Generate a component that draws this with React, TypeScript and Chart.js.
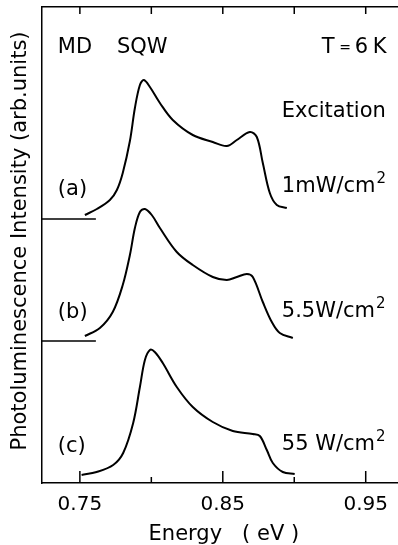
import React, { useEffect, useRef } from "react";
import { Chart, registerables } from "chart.js";

Chart.register(...registerables);

// ---- data (energy in eV, intensity in arb. units above each trace's baseline) ----
const energyA = [0.7535, 0.7619, 0.771, 0.7759, 0.78, 0.785, 0.7885, 0.792, 0.7948, 0.799, 0.806, 0.815, 0.829, 0.843, 0.8528, 0.8598, 0.8689, 0.8738, 0.878, 0.8829, 0.8878, 0.8948];
const intensityA = [4, 10, 19, 29, 46, 78, 111, 134, 139, 132, 116, 99, 84, 77, 73, 79, 87, 82, 56, 26, 14, 11];

const energyB = [0.7535, 0.764, 0.773, 0.78, 0.785, 0.7885, 0.792, 0.7955, 0.8003, 0.806, 0.8178, 0.829, 0.843, 0.8528, 0.8598, 0.8668, 0.871, 0.878, 0.8843, 0.8899, 0.899];
const intensityB = [5, 13, 29, 56, 86, 113, 129, 132, 126, 113, 89, 76, 64, 61, 64, 67, 64, 39, 19, 8, 3];

const energyC = [0.7512, 0.7617, 0.7733, 0.7803, 0.7873, 0.792, 0.7955, 0.799, 0.8024, 0.808, 0.8178, 0.829, 0.843, 0.857, 0.871, 0.8759, 0.8808, 0.885, 0.892, 0.9003];
const intensityC = [8, 11, 18, 30, 60, 96, 123, 133, 131, 120, 96, 76, 61, 52, 49, 47, 33, 20, 11, 9];

// vertical offsets of the stacked traces
const offsets = [264, 142, 0];
const traceLabels = ["(a)", "(b)", "(c)"];
const excitationLabels = ["1mW/cm", "5.5W/cm", "55 W/cm"];

// baseline marker segments for (a) and (b)
const baselineEnergies = [0.7235, 0.7612];

// axis
const xMin = 0.7235;
const xMax = 0.9724;
const yMin = 0;
const yMax = 476;
const tickValues = [0.75, 0.8, 0.85, 0.9, 0.95];
const labeledTicks = [0.75, 0.85, 0.95];

const FONT = "'DejaVu Sans', sans-serif";

function pts(xs: number[], ys: number[], off: number) {
  return xs.map((x, i) => ({ x, y: ys[i] + off }));
}

const decorPlugin = {
  id: "decor",
  afterDraw(chart: any) {
    const ctx: CanvasRenderingContext2D = chart.ctx;
    const area = chart.chartArea;
    const xs = chart.scales.x;
    const ys = chart.scales.y;
    ctx.save();
    // texts
    ctx.fillStyle = "#000";
    ctx.textBaseline = "middle";
    ctx.textAlign = "left";
    ctx.font = `21px ${FONT}`;
    const at = (e: number, val: number) => [xs.getPixelForValue(e), ys.getPixelForValue(val)];
    let p = at(0.7346, 435);
    ctx.fillText("MD", p[0], p[1]);
    p = at(0.7759, 435);
    ctx.fillText("SQW", p[0], p[1]);
    p = at(0.9192, 435);
    ctx.fillText("T", p[0], p[1]);
    p = at(0.9315, 435);
    ctx.font = `14px ${FONT}`;
    ctx.fillText("=", p[0], p[1]);
    ctx.font = `21px ${FONT}`;
    p = at(0.9423, 435);
    ctx.fillText("6", p[0], p[1]);
    p = at(0.9549, 435);
    ctx.fillText("K", p[0], p[1]);
    p = at(0.8913, 371);
    ctx.fillText("Excitation", p[0], p[1]);
    const excY = [296, 171, 38];
    excitationLabels.forEach((t, i) => {
      const q = at(0.8913, excY[i]);
      ctx.font = `21px ${FONT}`;
      ctx.fillText(t, q[0], q[1]);
      const w = ctx.measureText(t).width;
      ctx.font = `15px ${FONT}`;
      ctx.fillText("2", q[0] + w + 1, q[1] - 8);
    });
    ctx.font = `21px ${FONT}`;
    const labY = [293, 170, 36];
    traceLabels.forEach((t, i) => {
      const q = at(0.7346, labY[i]);
      ctx.fillText(t, q[0], q[1]);
    });
    // inward ticks
    tickValues.forEach((v) => {
      const px = xs.getPixelForValue(v);
      const major = labeledTicks.some((l) => Math.abs(l - v) < 1e-6);
      const len = major ? 12 : 6;
      ctx.fillRect(px - 0.75, area.bottom - len, 1.5, len);
      ctx.fillRect(px - 0.75, area.top, 1.5, 7);
    });
    // axis titles
    ctx.textAlign = "center";
    ctx.textBaseline = "alphabetic";
    ctx.fillText("Energy   ( eV )", (area.left + area.right) / 2 + 4, 540);
    ctx.translate(26, (area.top + area.bottom) / 2 - 4);
    ctx.rotate(-Math.PI / 2);
    ctx.fillText("Photoluminescence Intensity (arb.units)", 0, 0);
    ctx.restore();
  },
};

export default function App() {
  const ref = useRef<HTMLCanvasElement>(null);
  useEffect(() => {
    document.body.style.margin = "0";
    const line = (data: any[]) => ({
      data,
      borderColor: "#000",
      borderWidth: 2,
      pointRadius: 0,
      fill: false,
      tension: 0.35,
    });
    const base = (off: number) => ({
      data: baselineEnergies.map((x) => ({ x, y: off })),
      borderColor: "#000",
      borderWidth: 1.5,
      pointRadius: 0,
      fill: false,
    });
    const chart = new Chart(ref.current!, {
      type: "line",
      data: {
        datasets: [
          line(pts(energyA, intensityA, offsets[0])),
          line(pts(energyB, intensityB, offsets[1])),
          line(pts(energyC, intensityC, offsets[2])),
          base(offsets[0]),
          base(offsets[1]),
        ],
      },
      options: {
        animation: false,
        responsive: false,
        maintainAspectRatio: false,
        layout: { padding: 0 },
        plugins: { legend: { display: false }, tooltip: { enabled: false } },
        scales: {
          x: {
            type: "linear",
            position: "bottom",
            min: xMin,
            max: xMax,
            afterBuildTicks: (s: any) => {
              s.ticks = tickValues.map((value) => ({ value }));
            },
            afterFit: (s: any) => {
              s.height = 62;
            },
            grid: { display: false, drawTicks: false },
            border: { display: true, color: "#000", width: 1.5 },
            ticks: {
              color: "#000",
              font: { family: FONT, size: 20 },
              padding: 10,
              maxRotation: 0,
              autoSkip: false,
              callback: (v: any) =>
                labeledTicks.some((l) => Math.abs(l - Number(v)) < 1e-6) ? Number(v).toFixed(2) : "",
            },
          },
          x2: {
            type: "linear",
            position: "top",
            min: xMin,
            max: xMax,
            afterFit: (s: any) => {
              s.height = 7;
            },
            grid: { display: false, drawTicks: false },
            border: { display: true, color: "#000", width: 1.5 },
            ticks: { display: false },
          },
          y: {
            type: "linear",
            position: "left",
            min: yMin,
            max: yMax,
            afterFit: (s: any) => {
              s.width = 42;
            },
            grid: { display: false, drawTicks: false },
            border: { display: true, color: "#000", width: 1.5 },
            ticks: { display: false },
          },
        },
      },
      plugins: [decorPlugin],
    });
    return () => chart.destroy();
  }, []);
  return <canvas ref={ref} width={398} height={545} style={{ display: "block" }} />;
}
